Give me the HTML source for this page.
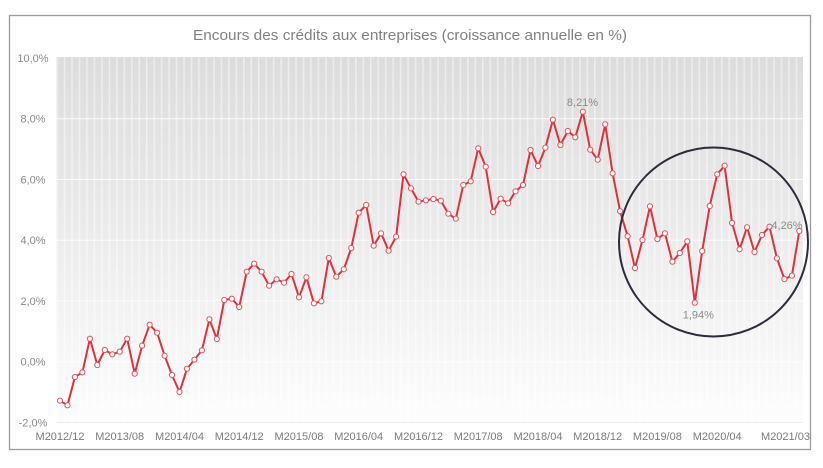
<!DOCTYPE html>
<html>
<head>
<meta charset="utf-8">
<style>
  html, body { margin: 0; padding: 0; background: #ffffff; }
  body { width: 823px; height: 468px; overflow: hidden; }
  svg { display: block; }
  text { font-family: "Liberation Sans", "DejaVu Sans", sans-serif; }
</style>
</head>
<body>
<svg width="823" height="468" viewBox="0 0 823 468" xmlns="http://www.w3.org/2000/svg">
  <defs>
    <linearGradient id="bg" x1="0" y1="57" x2="0" y2="423" gradientUnits="userSpaceOnUse">
      <stop offset="0" stop-color="#dcdcdc"/>
      <stop offset="0.5" stop-color="#ececec"/>
      <stop offset="1" stop-color="#fdfdfd"/>
    </linearGradient>
    <pattern id="stripes" x="56.3" y="0" width="7.468" height="468" patternUnits="userSpaceOnUse">
      <rect x="0" y="0" width="1.6" height="468" fill="#ffffff" opacity="0.45"/>
    </pattern>
    <marker id="m" markerUnits="userSpaceOnUse" markerWidth="8" markerHeight="8" refX="4" refY="4" overflow="visible">
      <circle cx="4" cy="4" r="2.6" fill="#ffffff" stroke="#e4525c" stroke-width="1"/>
    </marker>
  </defs>

  <!-- frame -->
  <rect x="9.5" y="15.5" width="801" height="434" fill="#ffffff" stroke="#9a9a9a" stroke-width="1.3"/>

  <!-- title -->
  <text x="410" y="40" font-size="15" fill="#808080" text-anchor="middle" textLength="434" lengthAdjust="spacingAndGlyphs">Encours des crédits aux entreprises (croissance annuelle en %)</text>

  <!-- plot background -->
  <rect x="56.3" y="57" width="746.7" height="366" fill="url(#bg)"/>
  <rect x="56.3" y="57" width="746.7" height="366" fill="url(#stripes)"/>

  <!-- horizontal gridlines -->
  <g stroke="#ffffff" stroke-width="1" opacity="0.85">
    <line x1="56.3" y1="118.75" x2="803" y2="118.75"/>
    <line x1="56.3" y1="179.5" x2="803" y2="179.5"/>
    <line x1="56.3" y1="240.25" x2="803" y2="240.25"/>
    <line x1="56.3" y1="301" x2="803" y2="301"/>
    <line x1="56.3" y1="361.75" x2="803" y2="361.75"/>
  </g>
  <line x1="56.3" y1="422.5" x2="803" y2="422.5" stroke="#ececec" stroke-width="1"/>

  <!-- y labels -->
  <g font-size="11" fill="#8a8a8a" text-anchor="middle">
    <text x="33" y="62">10,0%</text>
    <text x="33" y="122.5">8,0%</text>
    <text x="33" y="183.5">6,0%</text>
    <text x="33" y="244">4,0%</text>
    <text x="33" y="305">2,0%</text>
    <text x="33" y="365.5">0,0%</text>
    <text x="33" y="426.5">-2,0%</text>
  </g>

  <!-- x labels -->
  <g font-size="11" fill="#7a7a7a" text-anchor="middle">
    <text x="60" y="440">M2012/12</text>
    <text x="119.7" y="440">M2013/08</text>
    <text x="179.5" y="440">M2014/04</text>
    <text x="239.2" y="440">M2014/12</text>
    <text x="299" y="440">M2015/08</text>
    <text x="358.7" y="440">M2016/04</text>
    <text x="418.5" y="440">M2016/12</text>
    <text x="478.2" y="440">M2017/08</text>
    <text x="538" y="440">M2018/04</text>
    <text x="597.7" y="440">M2018/12</text>
    <text x="657.4" y="440">M2019/08</text>
    <text x="717.2" y="440">M2020/04</text>
    <text x="785.5" y="440">M2021/03</text>
  </g>

  <!-- series -->
  <polyline fill="none" stroke="#e0303c" stroke-width="2" stroke-linejoin="round"
    marker-start="url(#m)" marker-mid="url(#m)" marker-end="url(#m)"
    points="60.0,400.7 67.5,405.3 74.9,377 82.4,372.3 89.9,338.7 97.3,365 104.8,350 112.3,354.3 119.7,351.7 127.2,338.7
            134.7,373.7 142.1,345.7 149.6,324.7 157.1,332.7 164.6,355.7 172.0,375 179.5,392 187.0,368.7 194.4,359.7 201.9,350.3
            209.4,319.3 216.8,339 224.3,300 231.8,298.7 239.2,307 246.7,271.7 254.2,263.7 261.6,271.7 269.1,285.7 276.6,279.3
            284.0,282.7 291.5,274 299.0,297.3 306.4,277.3 313.9,303.3 321.4,301.3 328.8,258 336.3,276.7 343.8,269.3 351.3,248
            358.7,212.7 366.2,205 373.7,245.7 381.1,233.3 388.6,250.7 396.1,236.7 403.5,174.3 411.0,188.3 418.5,201.7 425.9,200.3
            433.4,199 440.9,200.7 448.3,213.7 455.8,218.7 463.3,185 470.7,181.3 478.2,148.3 485.7,166.7 493.1,212 500.6,198.7
            508.1,203.3 515.5,191.3 523.0,185 530.5,150 538.0,166 545.4,147.7 552.9,119.7 560.4,145 567.8,131 575.3,137.3
            582.8,111.7 590.2,149.7 597.7,159.7 605.2,124.3 612.6,173.3 620.1,211.2 627.6,236.2 635.0,268 642.5,240 650.0,206.3
            657.4,239 664.9,233.3 672.4,261.7 679.8,253 687.3,241.3 694.8,302.7 702.2,251 709.7,206 717.2,174.3 724.6,165.7
            732.1,223 739.6,249.3 747.0,227.3 754.5,252 762.0,235 769.5,226.7 776.9,258.3 784.4,279 791.9,275.7 799.3,231"/>

  <!-- annotations -->
  <g font-size="11" fill="#8a8a8a" text-anchor="middle">
    <text x="582.5" y="106">8,21%</text>
    <text x="698.3" y="318.5">1,94%</text>
    <text x="787" y="229">4,26%</text>
  </g>

  <!-- highlight circle -->
  <circle cx="713.5" cy="242" r="94.5" fill="none" stroke="#2a2c3a" stroke-width="2"/>
</svg>
</body>
</html>
